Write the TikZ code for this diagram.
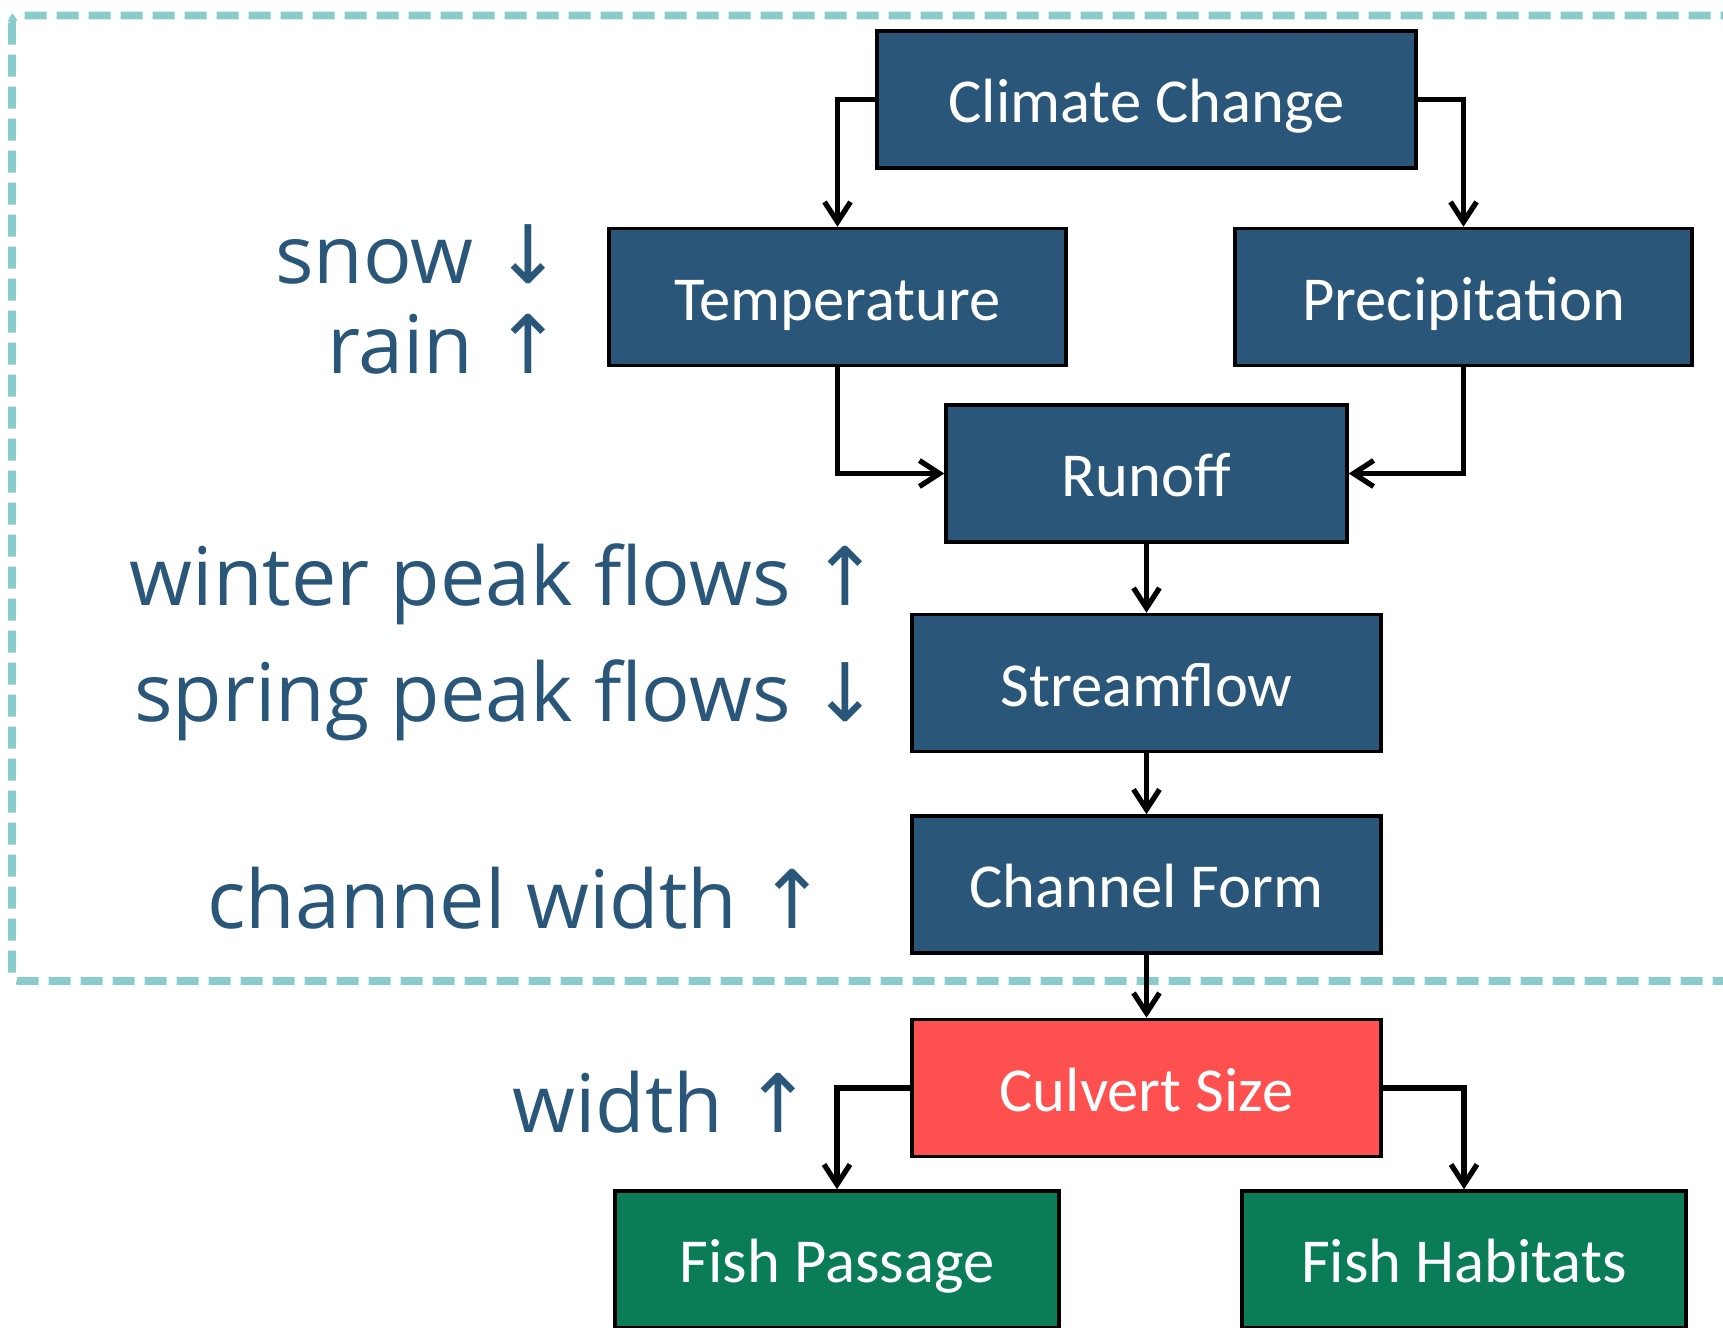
\documentclass[tikz,border=0pt]{standalone}
\usepackage{fontspec}
\usetikzlibrary{arrows.meta, positioning}
\newfontfamily\boxfont{Carlito}
\newfontfamily\notefont{Open Sans}
\newfontfamily\arrowfont{DejaVu Sans}
\definecolor{boxblue}{HTML}{2A5779}
\definecolor{culvertred}{HTML}{FF5050}
\definecolor{fishgreen}{HTML}{0A7D58}
\definecolor{dashteal}{HTML}{8ACCCC}
\newcommand{\incr}{{\arrowfont ↑}}
\newcommand{\decr}{{\arrowfont ↓}}

\begin{document}
\begin{tikzpicture}[
            box/.style={draw=black, line width=1pt, fill=boxblue, text=white,
                minimum height=1.37cm, inner sep=2pt, text height=0.6cm, text depth=0.14cm,
                font=\boxfont\fontsize{17.8}{20}\selectfont},
            note/.style={text=boxblue, anchor=base east, inner sep=0pt,
                font=\notefont\fontsize{23}{27}\selectfont},
            frame/.style={dashteal, line width=2.2pt, dash pattern=on 0.22cm off 0.1cm},
            arrow/.style={-{Straight Barb[length=2mm, width=2.6mm]}, line width=1.5pt}
        ]
        \useasboundingbox (0,0) rectangle (17.23,-13.27);
        % --- dashed frame round the upstream part ---
        \draw[frame, rounded corners=2pt] (0.12,-0.155) rectangle (17.6,-9.81);

        % --- boxes ---
        \node[box, minimum width=5.39cm] (climate) at (11.465,-0.995) {Climate Change};
        \node[box, minimum width=4.57cm] (temp) at (8.375,-2.97) {Temperature};
        \node[box, minimum width=4.57cm] (precip) at (14.635,-2.97) {Precipitation};
        \node[box, minimum width=4.01cm] (runoff) at (11.465,-4.735) {Runoff};
        \node[box, minimum width=4.69cm] (stream) at (11.465,-6.83) {Streamflow};
        \node[box, minimum width=4.69cm] (channel) at (11.465,-8.845) {Channel Form};
        \node[box, fill=culvertred, minimum width=4.69cm] (culvert) at (11.465,-10.88) {Culvert Size};
        \node[box, fill=fishgreen, minimum width=4.44cm] (passage) at (8.37,-12.595) {Fish Passage};
        \node[box, fill=fishgreen, minimum width=4.44cm] (habitat) at (14.64,-12.595) {Fish Habitats};

        % --- side notes ---
        \node[note] (snow) at (5.63,-2.835) {snow \decr};
        \node[note] (rain) at (5.63,-3.736) {rain \incr};
        \node[note] (winter) at (8.80,-6.055) {winter peak flows \incr};
        \node[note] (spring) at (8.80,-7.21) {spring peak flows \decr};
        \node[note] (chwidth) at (8.27,-9.286) {channel width \incr};
        \node[note] (width) at (8.13,-11.32) {width \incr};

        % --- connectors ---
        \draw[arrow] (climate.west) -| (temp.north);
        \draw[arrow] (climate.east) -| (precip.north);
        \draw[arrow] (temp.south) |- (runoff.west);
        \draw[arrow] (precip.south) |- (runoff.east);
        \draw[arrow] (runoff) -- (stream);
        \draw[arrow] (stream) -- (channel);
        \draw[arrow] (channel) -- (culvert);
        \draw[arrow] (culvert.west) -| (passage.north);
        \draw[arrow] (culvert.east) -| (habitat.north);
        \end{tikzpicture}
\end{document}
